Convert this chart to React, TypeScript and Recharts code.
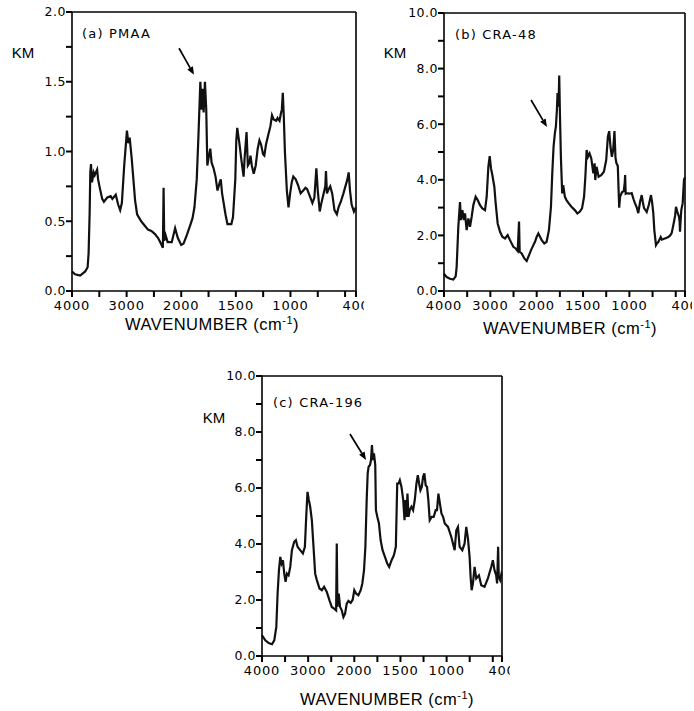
import { LineChart, Line, XAxis, YAxis, ReferenceLine } from "recharts";

// wavenumber (cm-1) and KM readings, one pair of arrays per panel
const aWave = [4000,3944,3851,3758,3714,3696,3677,3665,3652,3634,3603,3584,3540,3522,3497,3447,3416,3354,3292,3261,3199,3155,3118,3087,3044,2994,2969,2944,2907,2876,2845,2808,2733,2671,2609,2547,2485,2423,2373,2336,2323,2311,2286,2249,2174,2143,2112,2062,2000,1979,1949,1918,1897,1879,1858,1843,1834,1825,1813,1804,1795,1783,1771,1761,1746,1734,1722,1704,1686,1668,1647,1638,1626,1595,1577,1541,1526,1505,1496,1487,1475,1466,1451,1429,1420,1402,1390,1375,1366,1354,1336,1318,1300,1284,1269,1251,1239,1224,1203,1184,1169,1154,1130,1118,1100,1088,1079,1070,1061,1051,1033,1018,1003,988,974,952,931,907,883,862,847,823,799,781,763,750,732,717,702,681,675,666,651,636,618,597,575,560,539,515,497,479,467,455,440,419,400];
const aKm = [0.14,0.12,0.11,0.14,0.17,0.27,0.56,0.85,0.91,0.78,0.85,0.83,0.87,0.80,0.75,0.66,0.64,0.67,0.68,0.66,0.69,0.62,0.58,0.63,0.90,1.15,1.06,1.10,0.95,0.80,0.65,0.55,0.50,0.47,0.44,0.43,0.41,0.38,0.34,0.31,0.74,0.36,0.40,0.35,0.35,0.40,0.45,0.38,0.33,0.34,0.40,0.47,0.52,0.60,0.80,1.10,1.30,1.50,1.30,1.45,1.28,1.50,1.30,0.90,0.97,1.02,0.92,0.88,0.82,0.72,0.78,0.80,0.70,0.55,0.48,0.48,0.53,0.80,1.08,1.17,1.10,1.05,0.95,0.82,0.95,1.14,0.90,0.92,0.97,0.90,0.84,0.90,1.02,1.08,1.05,0.98,0.97,1.05,1.12,1.18,1.26,1.23,1.22,1.24,1.22,1.27,1.30,1.42,1.25,1.00,0.72,0.60,0.70,0.78,0.82,0.80,0.76,0.70,0.72,0.74,0.73,0.68,0.63,0.67,0.88,0.72,0.57,0.63,0.68,0.75,0.86,0.70,0.73,0.75,0.70,0.58,0.55,0.60,0.64,0.70,0.75,0.80,0.85,0.72,0.62,0.57,0.60];

const bWave = [4000,3942,3871,3799,3748,3727,3691,3655,3633,3604,3568,3547,3511,3475,3439,3403,3367,3317,3273,3223,3173,3115,3079,3043,3014,2986,2957,2914,2885,2842,2791,2741,2683,2626,2576,2504,2453,2410,2381,2367,2324,2266,2216,2165,2122,2072,2036,2000,1982,1964,1946,1918,1893,1868,1846,1832,1818,1804,1793,1782,1775,1764,1757,1750,1739,1725,1714,1696,1679,1654,1625,1589,1561,1536,1511,1489,1475,1461,1446,1429,1411,1389,1375,1368,1354,1332,1304,1275,1250,1232,1218,1204,1189,1175,1161,1150,1140,1125,1110,1100,1080,1060,1050,1046,1040,1029,1000,975,955,940,920,904,885,867,855,842,813,790,767,755,742,731,713,700,688,675,662,650,633,610,580,560,544,530,519,507,497,483,465,458,454,448,440,425,411,400];
const bKm = [0.62,0.50,0.44,0.41,0.53,0.87,2.31,3.20,2.55,2.91,2.55,2.79,2.19,2.61,2.31,2.67,3.09,3.39,3.27,3.09,2.97,2.91,3.39,4.47,4.85,4.41,4.17,3.75,3.15,2.43,2.13,1.95,1.89,2.01,1.83,1.59,1.53,1.44,2.50,1.41,1.35,1.17,1.08,1.29,1.47,1.65,1.77,1.95,2.07,1.95,1.83,1.71,1.77,2.19,3.03,4.23,5.19,5.67,5.91,6.51,7.12,6.63,7.75,6.51,4.83,3.51,3.81,3.39,3.27,3.15,3.03,2.91,2.79,2.85,2.97,3.39,4.11,5.07,4.83,4.95,4.77,4.23,4.59,3.99,4.47,4.11,4.17,4.29,4.71,5.55,5.75,5.19,4.83,5.07,5.75,4.80,4.60,4.50,3.00,3.40,3.55,3.60,3.90,4.17,3.50,3.52,3.50,3.52,3.30,3.16,3.00,2.80,3.20,3.45,3.20,2.98,2.84,3.10,3.45,3.20,2.80,2.19,1.65,1.72,1.76,1.85,1.94,1.85,1.87,1.90,1.94,2.00,2.08,2.30,2.49,2.70,3.03,2.85,2.67,2.50,2.13,2.50,2.91,3.16,3.99,4.10];

const cWave = [4000,3928,3856,3784,3734,3690,3662,3633,3604,3575,3546,3518,3489,3460,3424,3388,3352,3302,3266,3230,3172,3114,3071,3042,3014,2985,2956,2920,2884,2848,2812,2754,2704,2654,2596,2538,2488,2438,2394,2380,2366,2337,2308,2272,2236,2200,2164,2128,2078,2035,2000,1981,1956,1931,1913,1895,1880,1866,1855,1845,1830,1819,1809,1798,1787,1773,1766,1751,1733,1715,1694,1668,1643,1622,1596,1571,1550,1535,1521,1507,1489,1470,1456,1446,1435,1424,1413,1399,1381,1363,1345,1327,1312,1298,1284,1269,1255,1241,1227,1212,1198,1183,1162,1140,1118,1104,1089,1056,1038,1020,985,949,913,895,877,859,830,805,787,769,751,740,729,715,697,679,650,625,589,553,517,499,481,463,453,442,435,420,406,400];
const cKm = [0.74,0.56,0.46,0.42,0.56,1.04,2.23,3.06,3.54,3.30,3.42,2.94,2.65,2.94,2.88,3.18,3.78,4.08,4.14,3.90,3.78,3.66,3.90,4.97,5.86,5.57,5.33,4.85,3.90,2.94,2.71,2.41,2.35,2.47,2.29,1.99,1.75,1.69,1.63,4.02,1.75,2.23,1.75,1.63,1.39,1.51,1.87,1.97,1.90,2.01,2.35,2.23,2.17,2.35,2.59,3.06,3.90,5.57,6.52,6.76,6.82,7.00,7.53,7.00,7.24,6.82,5.21,4.97,4.73,4.14,3.78,3.54,3.30,3.18,3.42,3.60,3.90,6.16,6.16,6.28,6.04,5.57,4.85,5.57,4.97,5.80,4.97,5.21,5.33,5.21,5.57,6.16,6.46,6.16,5.92,6.04,6.40,6.52,6.10,6.04,5.57,4.85,4.97,4.97,5.21,5.21,5.80,5.09,4.97,4.73,4.61,4.25,3.78,4.49,4.61,3.90,3.78,4.02,4.61,4.20,3.54,2.82,2.35,2.59,3.18,2.77,2.88,2.53,2.47,2.77,3.18,3.42,3.06,2.88,2.59,3.90,2.82,2.71,2.94,2.90];

// axis ticks
const xTickWaves = [4000, 3500, 3000, 2500, 2000, 1750, 1500, 1250, 1000, 750, 500, 400];
const xLabelWaves = [4000, 3000, 2000, 1500, 1000, 400];
const yTicksA = [0, 0.25, 0.5, 0.75, 1, 1.25, 1.5, 1.75, 2];
const yTicksBC = [0, 1, 2, 3, 4, 5, 6, 7, 8, 9, 10];

// arrows pointing at the carbonyl band: [wave, km] start -> end
const arrowA = [[2040, 1.74], [1883, 1.55]];
const arrowB = [[2122, 6.87], [1889, 5.9]];
const arrowC = [[2094, 7.93], [1873, 7.0]];

// the spectrometer scale halves below 2000 cm-1
const toPos = (w: number) => (w >= 2000 ? (4000 - w) / 2 : 1000 + (2000 - w));
const toWave = (p: number) => Math.round(p <= 1000 ? 4000 - 2 * p : 2000 - (p - 1000));

const tickFont = "'DejaVu Sans', sans-serif";
const labelFont = "'Liberation Sans', Arial, sans-serif";

function Arrow(props: any) {
  const { x1, y1, x2, y2 } = props;
  const a = Math.atan2(y2 - y1, x2 - x1);
  const len = 8;
  const hw = 3.2;
  const bx = x2 - len * Math.cos(a);
  const by = y2 - len * Math.sin(a);
  const px = -Math.sin(a) * hw;
  const py = Math.cos(a) * hw;
  return (
    <g>
      <line x1={x1} y1={y1} x2={bx} y2={by} stroke="#000" strokeWidth={1.7} />
      <polygon points={`${x2},${y2} ${bx + px},${by + py} ${bx - px},${by - py}`} fill="#000" />
    </g>
  );
}

function Panel({ left, top, width, height, marginTop, marginRight, waves, km, yMax, yTicks, major, arrow }: any) {
  const rows = waves.map((w: number, i: number) => ({ pos: toPos(w), km: km[i] }));
  const xFmt = (p: number) => {
    const w = toWave(p);
    return xLabelWaves.includes(w) ? String(w) : "";
  };
  const yFmt = (v: number) => (Math.abs(v / major - Math.round(v / major)) < 1e-6 ? v.toFixed(1) : "");
  return (
    <div style={{ position: "absolute", left, top }}>
      <LineChart width={width} height={height} data={rows} margin={{ top: marginTop, right: marginRight, bottom: 14, left: 0 }}>
        <XAxis
          dataKey="pos"
          type="number"
          domain={[0, 2600]}
          ticks={xTickWaves.map(toPos)}
          interval={0}
          height={30}
          tickSize={6}
          tickMargin={4}
          tickLine={{ stroke: "#000", strokeWidth: 2 }}
          axisLine={{ stroke: "#000", strokeWidth: 1.6 }}
          tick={{ fill: "#000", fontFamily: tickFont, fontSize: 13, letterSpacing: 0.8 }}
          tickFormatter={xFmt}
        />
        <YAxis
          type="number"
          domain={[0, yMax]}
          ticks={yTicks}
          interval={0}
          width={72}
          tickSize={6}
          tickMargin={0}
          tickLine={{ stroke: "#000", strokeWidth: 2 }}
          axisLine={{ stroke: "#000", strokeWidth: 1.6 }}
          tick={{ fill: "#000", fontFamily: tickFont, fontSize: 12.5, letterSpacing: 0.5 }}
          tickFormatter={yFmt}
        />
        <ReferenceLine y={yMax} stroke="#000" strokeWidth={1.6} />
        <ReferenceLine x={2600} stroke="#000" strokeWidth={1.6} />
        <ReferenceLine
          segment={[
            { x: toPos(arrow[0][0]), y: arrow[0][1] },
            { x: toPos(arrow[1][0]), y: arrow[1][1] },
          ]}
          shape={(p: any) => <Arrow {...p} />}
        />
        <Line type="linear" dataKey="km" stroke="#111" strokeWidth={2.2} dot={false} isAnimationActive={false} />
      </LineChart>
    </div>
  );
}

const textBase: any = { position: "absolute", color: "#000", whiteSpace: "nowrap", lineHeight: 1 };

function AxisTitle({ cx, top }: { cx: number; top: number }) {
  return (
    <div style={{ ...textBase, left: cx - 100, top, width: 200, textAlign: "center", fontFamily: labelFont, fontSize: 16.5, letterSpacing: 0.5 }}>
      WAVENUMBER (cm<sup style={{ fontSize: 11, verticalAlign: "6px", lineHeight: 0 }}>-1</sup>)
    </div>
  );
}

function Km({ cx, top }: { cx: number; top: number }) {
  return <div style={{ ...textBase, left: cx - 20, top, width: 40, textAlign: "center", fontFamily: labelFont, fontSize: 15 }}>KM</div>;
}

function Title({ left, top, text }: { left: number; top: number; text: string }) {
  return <div style={{ ...textBase, left, top, fontFamily: tickFont, fontSize: 13, letterSpacing: 1.2 }}>{text}</div>;
}

export default function App() {
  return (
    <div style={{ position: "absolute", left: 0, top: 0, width: 694, height: 711, background: "#fff", overflow: "hidden" }}>
      <Panel left={0} top={0} width={364} height={335} marginTop={12} marginRight={8} waves={aWave} km={aKm} yMax={2} yTicks={yTicksA} major={0.5} arrow={arrowA} />
      <Panel left={372} top={0} width={320} height={335} marginTop={13} marginRight={7} waves={bWave} km={bKm} yMax={10} yTicks={yTicksBC} major={2} arrow={arrowB} />
      <Panel left={190} top={364} width={320} height={336} marginTop={12} marginRight={8} waves={cWave} km={cKm} yMax={10} yTicks={yTicksBC} major={2} arrow={arrowC} />
      <Km cx={23} top={45} />
      <Km cx={395} top={45} />
      <Km cx={214} top={410} />
      <Title left={82} top={27} text="(a) PMAA" />
      <Title left={455} top={28} text="(b) CRA-48" />
      <Title left={273} top={396} text="(c) CRA-196" />
      <AxisTitle cx={212} top={316} />
      <AxisTitle cx={570} top={320} />
      <AxisTitle cx={387} top={691} />
    </div>
  );
}
